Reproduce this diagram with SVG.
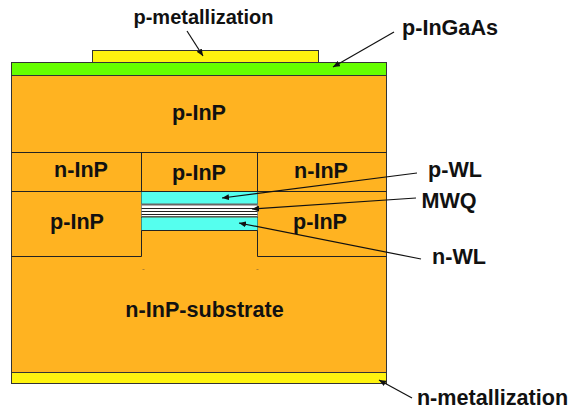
<svg xmlns="http://www.w3.org/2000/svg" width="577" height="410" viewBox="0 0 577 410">
<style>
.b{stroke:#333;stroke-width:1}
.o{fill:#ffb321}
.c{fill:#55ffee}
.y{fill:#fff30f}
.w{fill:none;stroke:#222;stroke-width:1}
.a{fill:none;stroke:#111;stroke-width:1.2;marker-end:url(#h)}
text{font-family:"Liberation Sans",Arial,sans-serif;font-weight:700;font-size:21.600px;fill:#111;text-anchor:middle}
</style>
<defs><marker id="h" markerUnits="userSpaceOnUse" markerWidth="8" markerHeight="6" refX="7" refY="3" orient="auto"><path d="M0 0L7 3L0 6Z" fill="#111"/></marker></defs>
<rect width="577" height="410" fill="#fff"/>
<g id="substrate"><rect class="o b" x="11.500" y="75.500" width="375" height="297"/></g>
<g id="p-metal"><rect class="y b" x="92.500" y="50.500" width="226" height="12"/></g>
<g id="p-ingaas"><rect x="11.500" y="62.500" width="375" height="13" fill="#66ff00" class="b"/></g>
<g id="n-metal"><rect class="y b" x="11.500" y="372.500" width="375" height="11"/></g>
<g id="regions">
<path class="w" d="M11.500 152.500H386.500M11.500 191.500H386.500M11.500 256.500H141.500M257.500 256.500H386.500M141.500 152.500V256.500M257.500 152.500V256.500"/>
<path d="M142.500 269h2v1h-2zM256.500 269h2v1h-2z" fill="#b08030"/>
</g>
<g id="p-wl"><rect class="c" x="141.500" y="192" width="116" height="12"/></g>
<g id="mwq">
<rect x="141.500" y="204" width="116" height="13" fill="#fff"/>
<path d="M141.500 204.500H257.500" stroke="#666" stroke-width="2"/>
<path class="w" d="M141.500 208.500H257.500M141.500 211.500H257.500M141.500 214.500H257.500"/>
<path d="M141.500 217H257.500" stroke="#222" stroke-width="1.400"/>
</g>
<g id="n-wl"><rect class="c" x="141.500" y="217.500" width="116" height="13"/><path class="w" d="M141.500 230.500H257.500"/></g>
<g id="connectors">
<path class="a" d="M187 31L203 56"/>
<path class="a" d="M394 32L333 67"/>
<path class="a" d="M417 173L222 198"/>
<path class="a" d="M416 198L252 209"/>
<path class="a" d="M421 259L239 223"/>
<path class="a" d="M412 398L379 380"/>
</g>
<g id="labels">
<text x="203.500" y="24" style="font-size:20px">p-metallization</text>
<text x="450" y="35">p-InGaAs</text>
<text x="199" y="120">p-InP</text>
<text x="81" y="177">n-InP</text>
<text x="199" y="180">p-InP</text>
<text x="321" y="178">n-InP</text>
<text x="77" y="229">p-InP</text>
<text x="320" y="229">p-InP</text>
<text x="455" y="177">p-WL</text>
<text x="449" y="208">MWQ</text>
<text x="459" y="264">n-WL</text>
<text x="204.500" y="317">n-InP-substrate</text>
<text x="492.500" y="405">n-metallization</text>
</g>
</svg>
